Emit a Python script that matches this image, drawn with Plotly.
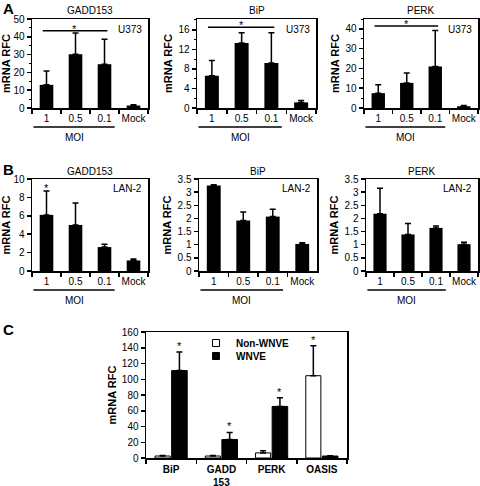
import plotly.graph_objects as go

# ---------------- data ----------------
moi_categories = ["1", "0.5", "0.1", "Mock"]

a_gadd153 = [13.0, 30.2, 24.6, 1.4]
a_gadd153_err = [7.8, 12.0, 14.0, 0.4]
a_bip = [6.6, 13.3, 9.2, 1.15]
a_bip_err = [3.1, 2.1, 6.2, 0.4]
a_perk = [7.5, 12.7, 21.0, 0.9]
a_perk_err = [4.2, 5.0, 18.2, 0.4]

b_gadd153 = [6.1, 5.0, 2.6, 1.15]
b_gadd153_err = [2.6, 2.4, 0.3, 0.15]
b_bip = [3.25, 1.92, 2.07, 1.03]
b_bip_err = [0.03, 0.32, 0.28, 0.04]
b_perk = [2.18, 1.39, 1.64, 1.02]
b_perk_err = [0.97, 0.42, 0.07, 0.07]

c_genes = ["BiP", "GADD<br>153", "PERK", "OASIS"]
c_non_wnve = [2.5, 2.5, 6.5, 104.5]
c_non_wnve_err = [0.8, 0.8, 2.8, 38.0]
c_wnve = [111.0, 23.5, 65.5, 2.5]
c_wnve_err = [23.5, 9.0, 11.0, 0.5]

a_sig_level = [43.4, 16.5, 41.4]

# ---------------- layout helpers ----------------
W, H = 480, 486
FONT = "Liberation Sans, Arial, Helvetica, sans-serif"


def px_x(p):
    return p / W


def px_y(p):
    return 1 - p / H


fig = go.Figure()
layout = dict(
    template="none",
    width=W, height=H, margin=dict(l=0, r=0, t=0, b=0),
    paper_bgcolor="white", plot_bgcolor="white",
    font=dict(family=FONT, size=10, color="black"),
    barmode="group", showlegend=True,
    annotations=[], shapes=[],
)

err_style = dict(type="data", symmetric=False, color="black", thickness=1.5, width=3)
ytitle = dict(text="<b>mRNA RFC</b>", font=dict(size=11, color="black"), standoff=3)

panels = [
    ("GADD153", "U373", a_gadd153, a_gadd153_err, (32, 148), (19, 108), [0, 50], 10, 5),
    ("BiP", "U373", a_bip, a_bip_err, (197, 316), (19, 108), [0, 18.2], 4, 2),
    ("PERK", "U373", a_perk, a_perk_err, (364, 478), (19, 108), [0, 45], 10, 5),
    ("GADD153", "LAN-2", b_gadd153, b_gadd153_err, (32, 148), (179, 271), [0, 10], 2, None),
    ("BiP", "LAN-2", b_bip, b_bip_err, (199, 317), (179, 271), [0, 3.5], 0.5, None),
    ("PERK", "LAN-2", b_perk, b_perk_err, (366, 478), (179, 271), [0, 3.5], 0.5, None),
]

for i, (title, cell, vals, errs, xp, yp, yr, dt, mdt) in enumerate(panels):
    n = i + 1
    xa = "x" if n == 1 else f"x{n}"
    ya = "y" if n == 1 else f"y{n}"
    xkey = "xaxis" if n == 1 else f"xaxis{n}"
    ykey = "yaxis" if n == 1 else f"yaxis{n}"
    fig.add_trace(go.Bar(
        x=moi_categories, y=vals, xaxis=xa, yaxis=ya, width=0.47,
        marker=dict(color="black", line=dict(width=0)),
        error_y=dict(array=errs, arrayminus=[0] * len(errs), **err_style),
        showlegend=False,
    ))
    layout[xkey] = dict(
        domain=[px_x(xp[0]), px_x(xp[1])], anchor=ya, type="category",
        categoryorder="array", categoryarray=moi_categories,
        range=[-0.5, 3.5], showline=True, linecolor="black", linewidth=1.5,
        mirror=True, ticks="outside", tickson="boundaries", ticklen=4,
        tickwidth=1.5, tickcolor="black", tickfont=dict(size=10),
        tickangle=0, showgrid=False, fixedrange=True, automargin=False,
    )
    yax = dict(
        domain=[px_y(yp[1]), px_y(yp[0])], anchor=xa, range=yr,
        dtick=dt, tick0=0, showline=True, linecolor="black", linewidth=1.5,
        mirror=True, ticks="outside", ticklen=4, tickwidth=1.5,
        tickcolor="black", tickfont=dict(size=10), showgrid=False,
        zeroline=False, fixedrange=True, automargin=False, title=ytitle,
    )
    if mdt:
        yax["minor"] = dict(dtick=mdt, ticks="outside", ticklen=2,
                            tickwidth=1, tickcolor="black", showgrid=False)
    layout[ykey] = yax

    # panel title, centred over the plot area
    layout["annotations"].append(dict(
        x=0.5, y=px_y(yp[0] - 8), xref=f"{xa} domain", yref="paper",
        text=title, showarrow=False, font=dict(size=10),
        xanchor="center", yanchor="middle"))
    layout["annotations"].append(dict(
        x=px_x(xp[1] - 4), y=px_y(yp[0] + 10), xref="paper", yref="paper",
        text=cell, showarrow=False, font=dict(size=10),
        xanchor="right", yanchor="middle"))
    layout["shapes"].append(dict(
        type="line", xref=xa, yref="paper", x0=-0.45, x1=2.35,
        y0=px_y(yp[1] + 19), y1=px_y(yp[1] + 19),
        line=dict(color="black", width=1.5)))
    layout["annotations"].append(dict(
        x=0.95, y=px_y(yp[1] + 29), xref=xa, yref="paper",
        text="MOI", showarrow=False, font=dict(size=10),
        xanchor="center", yanchor="middle"))
    if i < 3:
        lvl = a_sig_level[i]
        layout["shapes"].append(dict(
            type="line", xref=xa, yref=ya, x0=-0.13, x1=2.1, y0=lvl, y1=lvl,
            line=dict(color="black", width=1.5)))
        layout["annotations"].append(dict(
            x=0.98, y=lvl, xref=xa, yref=ya, text="*", showarrow=False,
            font=dict(size=11), xanchor="center", yanchor="bottom", yshift=-6))
    if i == 3:
        # asterisk above the first (MOI 1) bar; category index 0
        layout["annotations"].append(dict(
            x=0, y=vals[0] + errs[0], xref=xa, yref=ya, text="*",
            showarrow=False, font=dict(size=11), xanchor="center",
            yanchor="bottom", yshift=-5))

# ---------------- panel C ----------------
fig.add_trace(go.Bar(
    name="Non-WNVE", x=c_genes, y=c_non_wnve, xaxis="x7", yaxis="y7",
    width=0.30, offset=-0.32, showlegend=False,
    marker=dict(color="white", line=dict(color="black", width=1)),
    error_y=dict(array=c_non_wnve_err, arrayminus=[0] * 4, **err_style),
))
fig.add_trace(go.Bar(
    name="WNVE", x=c_genes, y=c_wnve, xaxis="x7", yaxis="y7",
    width=0.31, offset=0.01, showlegend=False,
    marker=dict(color="black", line=dict(color="black", width=1)),
    error_y=dict(array=c_wnve_err, arrayminus=[0] * 4, **err_style),
))
# legend keys (compact squares, one legend per entry)
for nm, fill, lg in (("Non-WNVE", "white", "legend"), ("WNVE", "black", "legend2")):
    fig.add_trace(go.Scatter(
        x=[None], y=[None], xaxis="x7", yaxis="y7", mode="markers", name=nm,
        legend=lg, showlegend=True,
        marker=dict(symbol="square", size=7, color=fill,
                    line=dict(color="black", width=1)),
    ))

cx, cy = (146, 347), (332, 458)
layout["xaxis7"] = dict(
    domain=[px_x(cx[0]), px_x(cx[1])], anchor="y7", type="category",
    categoryorder="array", categoryarray=c_genes, range=[-0.5, 3.5],
    showline=True, linecolor="black", linewidth=1.5, mirror=True,
    ticks="outside", tickson="boundaries", ticklen=4, tickwidth=1.5,
    tickcolor="black", tickfont=dict(size=10, weight="bold"), tickangle=0,
    ticklabelstandoff=1,
    showgrid=False, fixedrange=True, automargin=False,
)
layout["yaxis7"] = dict(
    domain=[px_y(cy[1]), px_y(cy[0])], anchor="x7", range=[0, 160], dtick=20,
    showline=True, linecolor="black", linewidth=1.5, mirror=True,
    ticks="outside", ticklen=4, tickwidth=1.5, tickcolor="black",
    tickfont=dict(size=10), showgrid=False, zeroline=False, fixedrange=True,
    automargin=False, title=ytitle,
)
for k, g in enumerate(c_genes):
    if k == 3:
        top, xo = c_non_wnve[k] + c_non_wnve_err[k], -0.17
    else:
        top, xo = c_wnve[k] + c_wnve_err[k], 0.165
    layout["annotations"].append(dict(
        x=k + xo, y=top, xref="x7", yref="y7", text="*", showarrow=False,
        font=dict(size=11), xanchor="center", yanchor="bottom", yshift=-2))

leg_common = dict(xanchor="left", yanchor="middle", bgcolor="rgba(0,0,0,0)",
                  font=dict(size=10, weight="bold", color="black"),
                  itemwidth=30, borderwidth=0)
layout["legend"] = dict(x=px_x(196), y=px_y(343), **leg_common)
layout["legend2"] = dict(x=px_x(196), y=px_y(356), **leg_common)

for letter, yy in (("A", 9), ("B", 169), ("C", 329)):
    layout["annotations"].append(dict(
        x=px_x(1), y=px_y(yy), xref="paper", yref="paper", text=f"<b>{letter}</b>",
        showarrow=False, font=dict(size=15), xanchor="left", yanchor="middle"))

fig.update_layout(**layout)
fig.write_html(
    "out.html",
    config={"displayModeBar": False, "staticPlot": True},
    post_script="document.body.style.margin='0';document.body.style.overflow='hidden';",
)
